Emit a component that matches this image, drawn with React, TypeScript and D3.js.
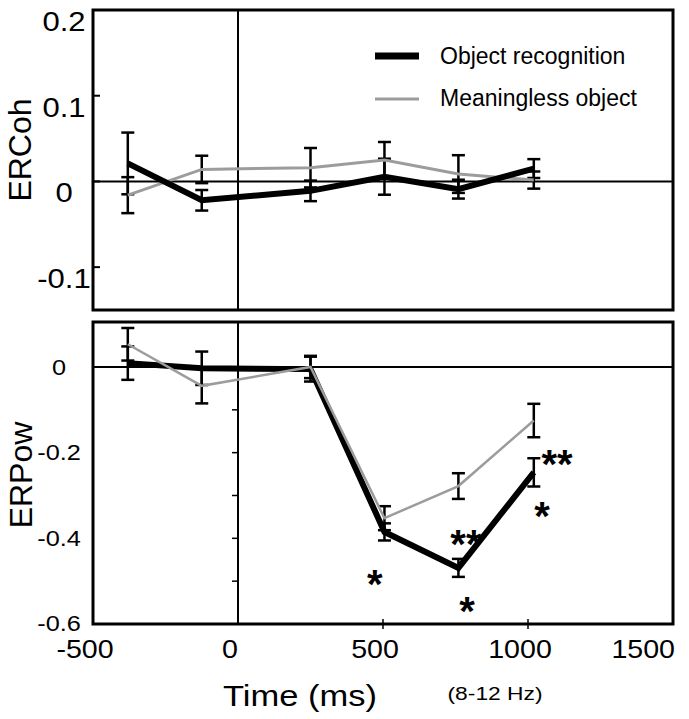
import React from "react";
import * as d3 from "d3";

const times = [-380, -125, 250, 505, 760, 1020];

const topRecog = [0.021, -0.022, -0.011, 0.0055, -0.009, 0.015];
const topRecogErr = [0.036, 0.012, 0.012, 0.021, 0.011, 0.011];
const topMeaning = [-0.016, 0.014, 0.016, 0.025, 0.0086, 0.0016];
const topMeaningErr = [0.021, 0.016, 0.023, 0.021, 0.022, 0.01];

const botRecog = [0.009, -0.003, -0.005, -0.385, -0.469, -0.246];
const botRecogErr = [0.039, 0.039, 0.029, 0.02, 0.021, 0.033];
const botMeaning = [0.053, -0.044, 0, -0.353, -0.278, -0.125];
const botMeaningErr = [0.038, 0.041, 0.026, 0.028, 0.03, 0.039];

const xTicks = [-500, 0, 500, 1000, 1500];
const topYTicks = [0.2, 0.1, 0, -0.1];
const topYLabels = ["0.2", "0.1", "0", "-0.1"];
const botYTicks = [0, -0.2, -0.4, -0.6];
const botYLabels = ["0", "-0.2", "-0.4", "-0.6"];
const botMinorTicks = [-0.1, -0.2, -0.3, -0.4, -0.5];
const xMinorTicks = [500, 1000];

const stars = [
  { t: 472, v: -0.486, s: "*" },
  { t: 786, v: -0.392, s: "**" },
  { t: 790, v: -0.549, s: "*" },
  { t: 1100, v: -0.205, s: "**" },
  { t: 1048, v: -0.327, s: "*" },
];

const legendItems = ["Object recognition", "Meaningless object"];

const FONT = "'Liberation Sans', Arial, Helvetica, sans-serif";
const GRAY = "#9c9c9c";

function SText(props: {
  x: number; y: number; sx?: number; size: number; anchor?: string; children: React.ReactNode; dy?: string; weight?: string;
}) {
  const { x, y, sx = 1.15, size, anchor = "middle", children, dy, weight } = props;
  return (
    <text
      transform={`translate(${x},${y}) scale(${sx},1)`}
      textAnchor={anchor}
      fontSize={size}
      dy={dy}
      fontWeight={weight}
    >
      {children}
    </text>
  );
}

export default function App() {
  const L = 93, R = 673;
  const x = d3.scaleLinear().domain([-500, 1500]).range([L, R]);
  const yT = d3.scaleLinear().domain([-0.15, 0.2]).range([310, 10]);
  const yB = d3.scaleLinear().domain([-0.6, 0.105]).range([624, 322]);

  const line = (y: d3.ScaleLinear<number, number>, vals: number[]) =>
    d3.line<number>().x((_, i) => x(times[i])).y((v) => y(v))(vals) || "";

  const errBars = (y: d3.ScaleLinear<number, number>, vals: number[], errs: number[], key: string) =>
    vals.map((v, i) => {
      const cx = x(times[i]);
      const y1 = y(v + errs[i]);
      const y2 = y(v - errs[i]);
      return (
        <g key={key + i} stroke="#000" strokeWidth={2.5}>
          <line x1={cx} x2={cx} y1={y1} y2={y2} />
          <line x1={cx - 6.5} x2={cx + 6.5} y1={y1} y2={y1} />
          <line x1={cx - 6.5} x2={cx + 6.5} y1={y2} y2={y2} />
        </g>
      );
    });

  return (
    <svg width={689} height={719} style={{ position: "absolute", left: 0, top: 0 }} fontFamily={FONT}>
      <rect x={0} y={0} width={689} height={719} fill="#fff" />

      {/* Top panel */}
      <line x1={L} x2={R} y1={yT(0)} y2={yT(0)} stroke="#000" strokeWidth={2} />
      <line x1={x(0)} x2={x(0)} y1={10} y2={310} stroke="#000" strokeWidth={2} />
      {topYTicks.map((t) => (
        <line key={"tt" + t} x1={L} x2={L + 7} y1={yT(t)} y2={yT(t)} stroke="#000" strokeWidth={2} />
      ))}
      {errBars(yT, topMeaning, topMeaningErr, "tm")}
      {errBars(yT, topRecog, topRecogErr, "tr")}
      <path d={line(yT, topMeaning)} fill="none" stroke={GRAY} strokeWidth={3} />
      <path d={line(yT, topRecog)} fill="none" stroke="#000" strokeWidth={6} strokeLinejoin="miter" />
      <rect x={L} y={10} width={R - L} height={300} fill="none" stroke="#000" strokeWidth={3} />

      {topYTicks.map((t, i) => (
        <SText key={"tl" + t} x={64} y={yT(t) + 21} size={27}>
          {topYLabels[i]}
        </SText>
      ))}
      <text transform={`translate(31,150) rotate(-90)`} textAnchor="middle" fontSize={32}>
        ERCoh
      </text>

      {/* Legend */}
      <line x1={375} x2={419} y1={56} y2={56} stroke="#000" strokeWidth={7} />
      <line x1={375} x2={419} y1={99} y2={99} stroke={GRAY} strokeWidth={3} />
      <text x={440} y={64} fontSize={23}>{legendItems[0]}</text>
      <text x={440} y={106} fontSize={23}>{legendItems[1]}</text>

      {/* Bottom panel */}
      <line x1={L} x2={R} y1={yB(0)} y2={yB(0)} stroke="#000" strokeWidth={2} />
      <line x1={x(0)} x2={x(0)} y1={322} y2={624} stroke="#000" strokeWidth={2} />
      {botMinorTicks.map((t) => (
        <line key={"bm" + t} x1={x(0) - 6} x2={x(0)} y1={yB(t)} y2={yB(t)} stroke="#000" strokeWidth={1.5} />
      ))}
      {xMinorTicks.map((t) => (
        <line key={"xm" + t} x1={x(t)} x2={x(t)} y1={619} y2={629} stroke="#000" strokeWidth={1.5} />
      ))}
      {errBars(yB, botMeaning, botMeaningErr, "bm")}
      {errBars(yB, botRecog, botRecogErr, "br")}
      <path d={line(yB, botRecog)} fill="none" stroke="#000" strokeWidth={6} strokeLinejoin="miter" />
      <path d={line(yB, botMeaning)} fill="none" stroke={GRAY} strokeWidth={2.5} />
      <rect x={L} y={322} width={R - L} height={302} fill="none" stroke="#000" strokeWidth={3} />

      {botYTicks.map((t, i) => (
        <SText key={"bl" + t} x={59} y={yB(t) - (i === botYTicks.length - 1 ? 1 : 0)} dy="0.35em" size={22}>
          {botYLabels[i]}
        </SText>
      ))}
      <text transform={`translate(32,475) rotate(-90)`} textAnchor="middle" fontSize={32}>
        ERPow
      </text>

      {stars.map((s, i) => (
        <text key={"s" + i} x={x(s.t)} y={yB(s.v) + 23} textAnchor="middle" fontSize={40} fontWeight="bold">
          {s.s}
        </text>
      ))}

      {/* X axis */}
      {xTicks.map((t, i) => (
        <SText
          key={"xl" + t}
          x={i === xTicks.length - 1 ? x(t) + 2 : x(t) - 8}
          y={658}
          size={26}
          sx={1.1}
          anchor={i === xTicks.length - 1 ? "end" : "middle"}
        >
          {t}
        </SText>
      ))}
      <SText x={300} y={706} size={30}>Time (ms)</SText>
      <SText x={495} y={700} size={19} sx={1.2}>(8-12 Hz)</SText>
    </svg>
  );
}
